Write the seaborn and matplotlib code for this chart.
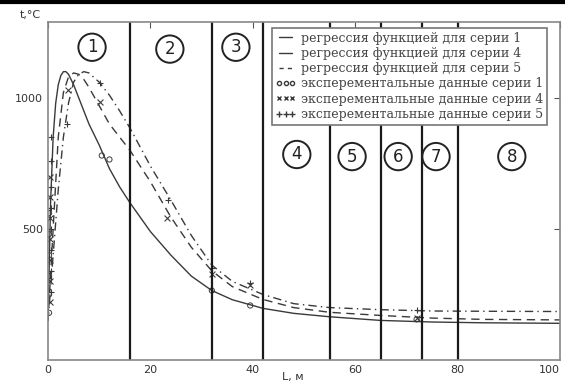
import matplotlib
matplotlib.use("Agg")
import matplotlib.pyplot as plt
from matplotlib.lines import Line2D
import pandas as pd
import seaborn as sns

## Data

# regression curves
x_fit1 = [0, 0.5, 1, 1.5, 2, 2.5, 3, 3.5, 4, 5, 6, 8, 10, 12, 14, 16, 20, 24, 28, 32, 36, 42, 48, 55, 65, 75, 85, 100]
y_fit1 = [150, 600, 850, 980, 1050, 1085, 1100, 1100, 1090, 1050, 1000, 900, 820, 730, 660, 600, 490, 400, 320, 265, 230, 197, 178, 165, 151, 145, 142, 140]

x_fit4 = [0, 1, 2, 3, 4, 5, 6, 7, 8, 10, 12, 14, 16, 20, 24, 28, 32, 36, 42, 48, 55, 65, 75, 85, 100]
y_fit4 = [150, 500, 850, 1020, 1080, 1095, 1090, 1070, 1040, 970, 900, 850, 800, 680, 545, 430, 340, 280, 231, 200, 182, 170, 160, 155, 153]

x_fit5 = [0, 1, 2, 3, 4, 5, 6, 7, 8, 10, 12, 14, 16, 20, 24, 28, 32, 36, 42, 48, 55, 65, 75, 85, 100]
y_fit5 = [150, 400, 650, 850, 980, 1060, 1090, 1100, 1095, 1060, 1010, 950, 885, 740, 610, 475, 362, 300, 250, 215, 200, 192, 187, 186, 185]

# experimental points
x_exp1 = [0.2, 0.2, 0.2, 0.2, 0.2, 0.2, 10.5, 12, 32, 39.5, 72]
y_exp1 = [180, 250, 320, 400, 480, 560, 780, 765, 265, 208, 155]

x_exp4 = [0.3, 0.3, 0.3, 0.3, 0.3, 0.3, 0.3, 3.9, 10.2, 23.2, 32, 39.5, 72]
y_exp4 = [220, 300, 380, 460, 540, 620, 700, 1030, 985, 542, 330, 285, 160]

x_exp5 = [0.6, 0.6, 0.6, 0.6, 0.6, 0.6, 0.6, 0.6, 3.7, 10.2, 23.5, 32, 39.5, 72]
y_exp5 = [260, 340, 420, 500, 580, 660, 760, 850, 900, 1055, 610, 350, 295, 190]

# zone borders and zone numbers
borders = [16, 32, 42, 55, 65, 73, 80]
zone_labels = ["1", "2", "3", "4", "5", "6", "7", "8"]
zone_x = [8.6, 23.8, 36.7, 48.6, 59.4, 68.4, 75.8, 90.6]
zone_y = [1193, 1186, 1193, 784, 776, 776, 776, 776]

legend_labels = [
    "регрессия функцией для серии 1",
    "регрессия функцией для серии 4",
    "регрессия функцией для серии 5",
    "эксперементальные данные серии 1",
    "эксперементальные данные серии 4",
    "эксперементальные данные серии 5",
]

## Plot

sns.set_style("white")
plt.rcParams["font.family"] = ["DejaVu Sans"]

fig = plt.figure(figsize=(5.65, 3.83), dpi=100)
ax = fig.add_axes([0.085, 0.06, 0.906, 0.883])

c = "#3a3a3a"
sns.lineplot(x=x_fit1, y=y_fit1, ax=ax, color=c, lw=1.0, linestyle="-", sort=False)
sns.lineplot(x=x_fit4, y=y_fit4, ax=ax, color=c, lw=1.0, linestyle=(0, (6, 4)), sort=False)
sns.lineplot(x=x_fit5, y=y_fit5, ax=ax, color=c, lw=1.0, linestyle=(0, (6, 3, 1, 3)), sort=False)

exp = pd.DataFrame({
    "x": x_exp1 + x_exp4 + x_exp5,
    "y": y_exp1 + y_exp4 + y_exp5,
    "s": ["1"] * len(x_exp1) + ["4"] * len(x_exp4) + ["5"] * len(x_exp5),
})
sns.scatterplot(data=exp[exp.s == "1"], x="x", y="y", ax=ax, marker="o",
                facecolor="none", edgecolor=c, s=14, linewidth=0.7, legend=False)
sns.scatterplot(data=exp[exp.s == "4"], x="x", y="y", ax=ax, marker="x",
                color=c, s=18, linewidth=0.8, legend=False)
sns.scatterplot(data=exp[exp.s == "5"], x="x", y="y", ax=ax, marker="+",
                color=c, s=22, linewidth=0.8, legend=False)

for b in borders:
    ax.axvline(b, color="#1a1a1a", lw=1.6)

for lab, zx, zy in zip(zone_labels, zone_x, zone_y):
    ax.text(zx, zy, lab, fontsize=12, ha="center", va="center", color="#222",
            bbox=dict(boxstyle="circle,pad=0.28", fc="white", ec="#222", lw=1.4))

ax.set_xlim(0, 100)
ax.set_ylim(0, 1290)
ax.set_xticks([0, 20, 40, 60, 80, 100])
ax.set_yticks([500, 1000])
ax.tick_params(direction="in", length=4, labelsize=8, colors="#555",
               top=True, right=True, labelcolor="#333")
ax.get_xticklabels()[-1].set_horizontalalignment("right")
for sp in ax.spines.values():
    sp.set_color("#888")
    sp.set_linewidth(1.2)
ax.set_xlabel("")
ax.set_ylabel("")

fig.text(0.035, 0.975, "t,°C", fontsize=8, color="#333", va="top")
fig.text(0.50, 0.003, "L, м", fontsize=8, color="#333", va="bottom")
fig.add_artist(Line2D([0, 1], [0.995, 0.995], color="black", lw=3, transform=fig.transFigure))

handles = [
    Line2D([], [], color=c, lw=1.0, linestyle="-"),
    Line2D([], [], color=c, lw=1.0, linestyle="-"),
    Line2D([], [], color=c, lw=1.0, linestyle=(0, (3, 3))),
    Line2D([], [], color=c, marker="o", ls="none", mfc="none", ms=3),
    Line2D([], [], color=c, marker="x", ls="none", ms=3),
    Line2D([], [], color=c, marker="+", ls="none", ms=4),
]
leg = ax.legend(handles, legend_labels, loc="upper left", bbox_to_anchor=(0.4375, 0.982),
                borderaxespad=0, prop={"family": "DejaVu Serif", "size": 9},
                numpoints=3, handlelength=1.6, handletextpad=0.4, labelspacing=0.18,
                borderpad=0.3, frameon=True, fancybox=False, framealpha=1)
leg.get_frame().set_edgecolor("#777")
leg.get_frame().set_linewidth(1.2)
for t in leg.get_texts():
    t.set_color("#444")

fig.savefig("out.png", dpi=100)
